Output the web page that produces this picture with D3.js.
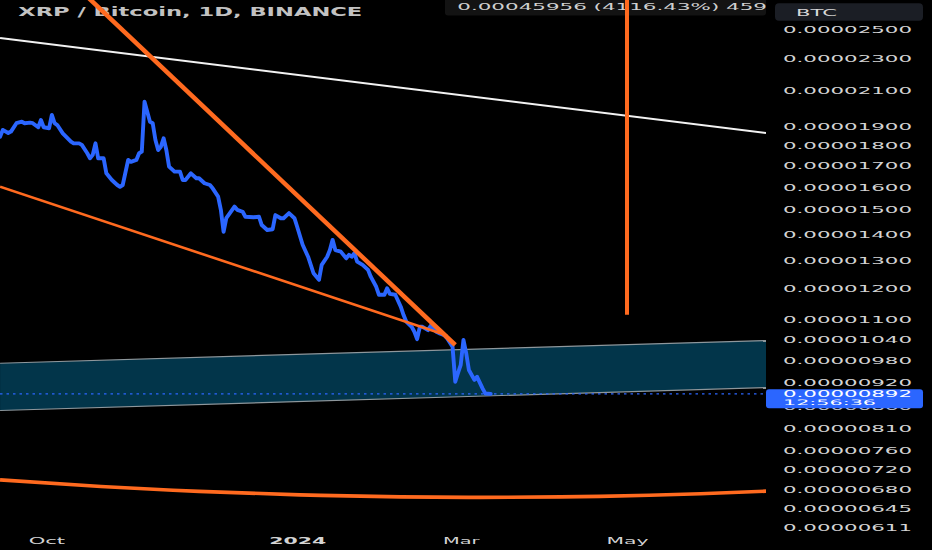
<!DOCTYPE html>
<html><head><meta charset="utf-8">
<script src="https://cdn.jsdelivr.net/npm/d3@7"></script>
<style>html,body{margin:0;padding:0;background:#000;overflow:hidden}svg{display:block}</style>
</head><body>
<svg id="chart" width="932" height="550"></svg>
<script>
// ---- data (prices in units of 1e-8 BTC) ----
const closeDates = ["2023-09-14","2023-09-15","2023-09-17","2023-09-18","2023-09-20","2023-09-22","2023-09-23","2023-09-25","2023-09-26","2023-09-28","2023-09-29","2023-09-30",
"2023-10-02","2023-10-03","2023-10-04","2023-10-05","2023-10-07","2023-10-10","2023-10-11","2023-10-13","2023-10-14","2023-10-16","2023-10-17","2023-10-18","2023-10-19","2023-10-20","2023-10-22","2023-10-23","2023-10-25","2023-10-27","2023-10-28","2023-10-29","2023-10-31",
"2023-11-01","2023-11-03","2023-11-04","2023-11-05","2023-11-06","2023-11-08","2023-11-09","2023-11-10","2023-11-11","2023-11-12","2023-11-13","2023-11-14","2023-11-15","2023-11-17","2023-11-19","2023-11-20","2023-11-21","2023-11-23","2023-11-25","2023-11-26","2023-11-28","2023-11-30",
"2023-12-01","2023-12-03","2023-12-04","2023-12-05","2023-12-06","2023-12-09","2023-12-10","2023-12-12","2023-12-13","2023-12-16","2023-12-18","2023-12-19","2023-12-21","2023-12-23","2023-12-24","2023-12-26","2023-12-27","2023-12-29","2023-12-31",
"2024-01-01","2024-01-03","2024-01-05","2024-01-07","2024-01-09","2024-01-10","2024-01-12","2024-01-13","2024-01-14","2024-01-15","2024-01-17","2024-01-19","2024-01-20","2024-01-21","2024-01-22","2024-01-23","2024-01-25","2024-01-27","2024-01-28","2024-01-30","2024-01-31",
"2024-02-02","2024-02-03","2024-02-04","2024-02-06","2024-02-08","2024-02-09","2024-02-10","2024-02-12","2024-02-13","2024-02-14","2024-02-15","2024-02-16","2024-02-18","2024-02-19","2024-02-21","2024-02-22","2024-02-24","2024-02-25","2024-02-27","2024-02-28","2024-02-29",
"2024-03-01","2024-03-02","2024-03-03","2024-03-04","2024-03-06","2024-03-07","2024-03-09","2024-03-10","2024-03-12"];
const closeSats = [1844,1880,1864,1871,1916,1924,1916,1919,1916,1894,1933,1894,
1889,1961,1916,1906,1862,1819,1810,1810,1802,1760,1735,1752,1810,1735,1735,1663,1632,1609,1601,1609,1727,
1718,1727,1760,1768,2036,1924,1916,1827,1776,1793,1836,1776,1695,1671,1671,1632,1632,1663,1640,1640,1617,1609,
1594,1557,1500,1410,1465,1514,1500,1492,1471,1469,1471,1437,1417,1420,1478,1465,1465,1486,1465,
1430,1359,1314,1254,1231,1284,1314,1339,1378,1339,1333,1308,1321,1314,1327,1296,1284,1266,1242,1207,1180,
1180,1202,1183,1180,1141,1115,1094,1078,1063,1041,1078,1078,1068,1081,1063,1059,1053,1044,1019,923,946,
968,1039,1001,954,928,936,906,893,892];

const yTickSats = [2500,2300,2100,1900,1800,1700,1600,1500,1400,1300,1200,1100,1040,980,920,860,810,760,720,680,645,611];
const xTickDates = ["2023-10-01","2024-01-01","2024-03-01","2024-05-01"];
const xTickLabels = ["Oct","2024","Mar","May"];
const lastPriceSats = 892;
const lastPriceTime = "12:56:36";
const titleText = "XRP / Bitcoin, 1D, BINANCE";
const infoText = "0.00045956 (4116.43%) 45956";
const currencyLabel = "BTC";

// drawings: [date, price in 1e-8]
const whiteTrend = [["2023-09-14",2437],["2024-06-21",1864]];
const thickDownTrend = [["2023-10-13",2799],["2024-02-28",1024]];
const thinTrend = [["2023-09-14",1601],["2024-02-25",1052]];
const verticalMarker = [["2024-05-01",2800],["2024-05-01",1115]];
const channelTop = [["2023-09-14",972.5],["2024-06-21",1037]];
const channelBottom = [["2023-09-14",851],["2024-06-21",908]];
const arcDates = ["2023-09-14","2023-10-21","2023-11-26","2024-01-02","2024-02-08","2024-03-08","2024-04-21","2024-05-28","2024-06-21"];
const arcSats = [699.5,686.7,677.2,670.5,666.7,665.8,667.8,672.7,677.6];

// ---- scales ----
const parse = d3.utcParse("%Y-%m-%d");
const W = 932, H = 550, plotRight = 766;
const x = d3.scaleUtc().domain([parse("2023-10-01"), parse("2024-05-01")]).range([46.4, 627]);
const y = d3.scaleLog().domain([611e-8, 2500e-8]).range([527.8, 29]);
const px = p => [x(parse(p[0])), y(p[1] * 1e-8)];

const svg = d3.select("#chart");
svg.append("rect").attr("width", W).attr("height", H).attr("fill", "#000");
const defs = svg.append("defs");
defs.append("clipPath").attr("id", "plotclip").append("rect").attr("x", 0).attr("y", 0).attr("width", plotRight).attr("height", H);
defs.append("clipPath").attr("id", "infoclip").append("rect").attr("x", 445).attr("y", 0).attr("width", plotRight - 445).attr("height", 16);

const FONT = "DejaVu Sans, sans-serif";
const ORANGE = "#ff6a1f", BLUE = "#2b66ff";

// title & info box (under drawings)
svg.append("text").attr("x", 18.3).attr("y", 11.7).attr("dy", "0.36em")
  .attr("font-family", FONT).attr("font-size", 12).attr("font-weight", "bold")
  .attr("fill", "#c2c2c2").attr("textLength", 344).attr("lengthAdjust", "spacingAndGlyphs").text(titleText);
svg.append("rect").attr("x", 445).attr("y", -4).attr("width", plotRight - 445).attr("height", 19.5).attr("rx", 3).attr("fill", "#131313");
svg.append("g").attr("clip-path", "url(#infoclip)").append("text")
  .attr("x", 457.3).attr("y", 7.3).attr("dy", "0.36em")
  .attr("font-family", FONT).attr("font-size", 8.5).attr("fill", "#d0d0d0")
  .attr("textLength", 337).attr("lengthAdjust", "spacingAndGlyphs").text(infoText);

const plot = svg.append("g").attr("clip-path", "url(#plotclip)");

// channel band
const tl = px(channelTop[0]), tr = px(channelTop[1]), bl = px(channelBottom[0]), br = px(channelBottom[1]);
plot.append("path").attr("d", d3.line()([tl, tr, br, bl]) + "Z").attr("fill", "#02354a");
[channelTop, channelBottom].forEach(e => {
  plot.append("path").attr("d", d3.line()(e.map(px))).attr("stroke", "#8e979c").attr("stroke-width", 1.2).attr("fill", "none");
});

// last price dotted line
plot.append("line").attr("x1", 0).attr("x2", plotRight)
  .attr("y1", y(lastPriceSats * 1e-8)).attr("y2", y(lastPriceSats * 1e-8))
  .attr("stroke", BLUE).attr("stroke-width", 1.3).attr("stroke-dasharray", "2.5,4");

// price series
const series = closeDates.map((d, i) => [x(parse(d)), y(closeSats[i] * 1e-8)]);
plot.append("path").attr("d", d3.line()(series)).attr("fill", "none")
  .attr("stroke", BLUE).attr("stroke-width", 3.9).attr("stroke-linejoin", "round").attr("stroke-linecap", "round");

// drawings
plot.append("path").attr("d", d3.line()(whiteTrend.map(px))).attr("stroke", "#f2f2f2").attr("stroke-width", 2).attr("fill", "none");
plot.append("path").attr("d", d3.line()(thinTrend.map(px))).attr("stroke", ORANGE).attr("stroke-width", 2.6).attr("fill", "none");
plot.append("path").attr("d", d3.line()(thickDownTrend.map(px))).attr("stroke", ORANGE).attr("stroke-width", 4.5).attr("fill", "none");
plot.append("path").attr("d", d3.line()(verticalMarker.map(px))).attr("stroke", ORANGE).attr("stroke-width", 4).attr("fill", "none");
const arcPts = arcDates.map((d, i) => [x(parse(d)), y(arcSats[i] * 1e-8)]);
plot.append("path").attr("d", d3.line().curve(d3.curveNatural)(arcPts)).attr("stroke", ORANGE).attr("stroke-width", 3.6).attr("fill", "none");

// y axis (right)
const yAxis = d3.axisRight(y).tickValues(yTickSats.map(v => v * 1e-8))
  .tickFormat(v => v.toFixed(8)).tickSize(0).tickPadding(17);
const yg = svg.append("g").attr("transform", `translate(${plotRight},0)`).call(yAxis);
yg.select(".domain").remove();
yg.selectAll("text").attr("font-family", FONT).attr("font-size", 8.5).attr("fill", "#d4d4d4")
  .attr("dy", "0.36em").attr("textLength", 129).attr("lengthAdjust", "spacingAndGlyphs");

// x axis
const xAxis = d3.axisBottom(x).tickValues(xTickDates.map(parse))
  .tickFormat((d, i) => xTickLabels[i]).tickSize(0).tickPadding(0);
const xg = svg.append("g").attr("transform", "translate(0,540.7)").call(xAxis);
xg.select(".domain").remove();
xg.selectAll("text").attr("y", 0).attr("dy", "0.36em").attr("font-family", FONT).attr("font-size", 9)
  .attr("fill", "#d4d4d4")
  .attr("font-weight", (d, i) => xTickLabels[i] === "2024" ? "bold" : "normal")
  .attr("textLength", (d, i) => xTickLabels[i] === "2024" ? 57 : (xTickLabels[i] === "May" ? 42 : 36.5))
  .attr("lengthAdjust", "spacingAndGlyphs");

// BTC button
svg.append("rect").attr("x", 775).attr("y", 3.3).attr("width", 148).attr("height", 17.4).attr("rx", 4).attr("fill", "#1b1e25");
svg.append("text").attr("x", 796).attr("y", 12.3).attr("dy", "0.36em").attr("font-family", FONT).attr("font-size", 9)
  .attr("fill", "#d8d8d8").attr("textLength", 41).attr("lengthAdjust", "spacingAndGlyphs").text(currencyLabel);

// last price label
const lp = y(lastPriceSats * 1e-8);
svg.append("rect").attr("x", plotRight).attr("y", lp - 4.5).attr("width", 157).attr("height", 19).attr("rx", 3).attr("fill", BLUE);
svg.append("text").attr("x", 783).attr("y", lp + 0.4).attr("dy", "0.36em").attr("font-family", FONT).attr("font-size", 8.5)
  .attr("fill", "#fff").attr("textLength", 129).attr("lengthAdjust", "spacingAndGlyphs").text((lastPriceSats * 1e-8).toFixed(8));
svg.append("text").attr("x", 783).attr("y", lp + 8.4).attr("dy", "0.36em").attr("font-family", FONT).attr("font-size", 7.5)
  .attr("fill", "#fff").attr("textLength", 93).attr("lengthAdjust", "spacingAndGlyphs").text(lastPriceTime);
</script>
</body></html>
